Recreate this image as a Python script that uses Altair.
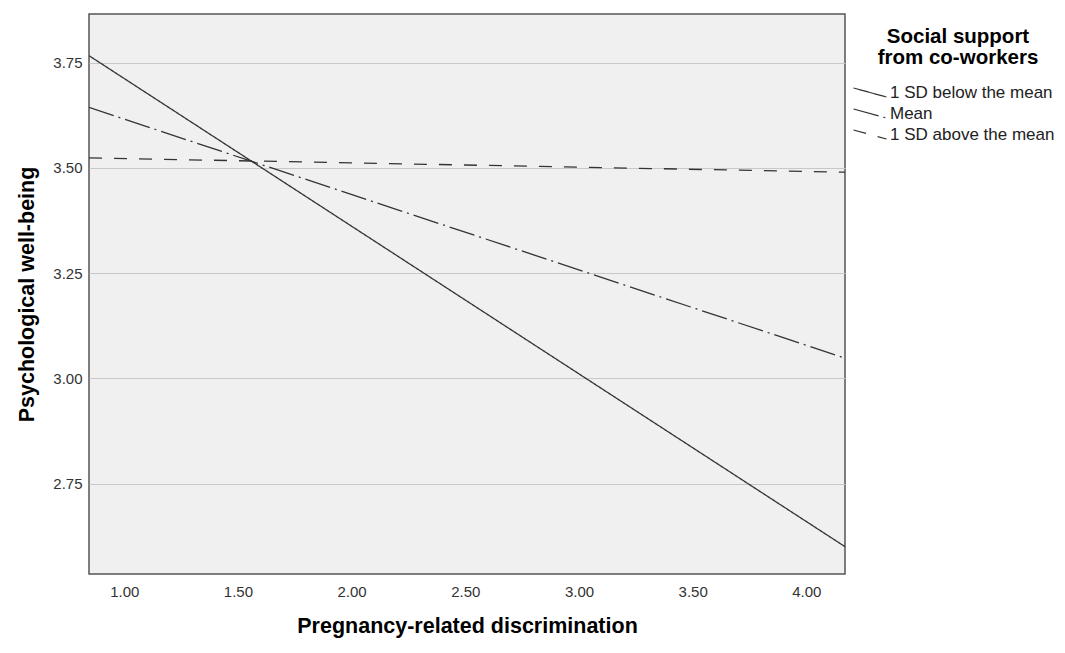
import altair as alt
import pandas as pd

# Data
x_points = [0.845, 4.17]
groups = ["1 SD below the mean", "Mean", "1 SD above the mean"]
y_below = [3.767, 2.600]
y_mean = [3.644, 3.048]
y_above = [3.524, 3.490]
x_ticks = [1.0, 1.5, 2.0, 2.5, 3.0, 3.5, 4.0]
y_ticks = [2.75, 3.0, 3.25, 3.5, 3.75]

rows = []
for g, ys in zip(groups, [y_below, y_mean, y_above]):
    for x, y in zip(x_points, ys):
        rows.append({"x": x, "y": y, "group": g})
df = pd.DataFrame(rows)

FONT = "Liberation Sans"

chart = alt.Chart(df).mark_line(color="#333333", strokeWidth=1.3, clip=True).encode(
    x=alt.X("x:Q",
            scale=alt.Scale(domain=[0.845, 4.17], nice=False, zero=False),
            axis=alt.Axis(values=x_ticks, format=".2f", title="Pregnancy-related discrimination",
                          grid=False, ticks=False, domain=False, labelPadding=10,
                          titlePadding=16)),
    y=alt.Y("y:Q",
            scale=alt.Scale(domain=[2.535, 3.866], nice=False, zero=False),
            axis=alt.Axis(values=y_ticks, format=".2f", title="Psychological well-being",
                          grid=True, ticks=False, domain=False, labelPadding=7,
                          titlePadding=14)),
    strokeDash=alt.StrokeDash("group:N",
                              scale=alt.Scale(domain=groups,
                                              range=[[1, 0], [26, 5, 2, 5], [13, 12]]),
                              sort=groups,
                              legend=alt.Legend(title=["Social support", "from co-workers"],
                                                orient="none", legendX=772, legendY=13,
                                                symbolType="M-2,-0.55L2,0.55",
                                                symbolSize=272,
                                                symbolStrokeColor="#333333",
                                                symbolStrokeWidth=1.2,
                                                symbolFillColor="transparent",
                                                labelOffset=11,
                                                labelLimit=400,
                                                rowPadding=4,
                                                titlePadding=15,
                                                titleLimit=400,
                                                titleAnchor="middle",
                                                titleAlign="center",
                                                titleFontSize=20.5,
                                                titleLineHeight=21,
                                                titleFontWeight="bold",
                                                titleColor="#000000",
                                                labelFontSize=17,
                                                labelColor="#222222",
                                                labelFont=FONT,
                                                titleFont=FONT)),
).properties(
    width=756,
    height=560,
    background="white",
    autosize=alt.AutoSizeParams(type="none"),
    padding={"left": 81, "top": 6, "right": 212, "bottom": 70},
).configure_view(
    fill="#f0f0f0",
    stroke="#555555",
    strokeWidth=1.5,
).configure_axis(
    labelFont=FONT,
    labelFontSize=15,
    labelColor="#333333",
    titleFont=FONT,
    titleFontSize=21.5,
    titleFontWeight="bold",
    titleColor="#000000",
    gridColor="#c8c8c8",
    gridWidth=1.2,
)

chart.save("out.html", embed_options={"renderer": "svg", "actions": False})
